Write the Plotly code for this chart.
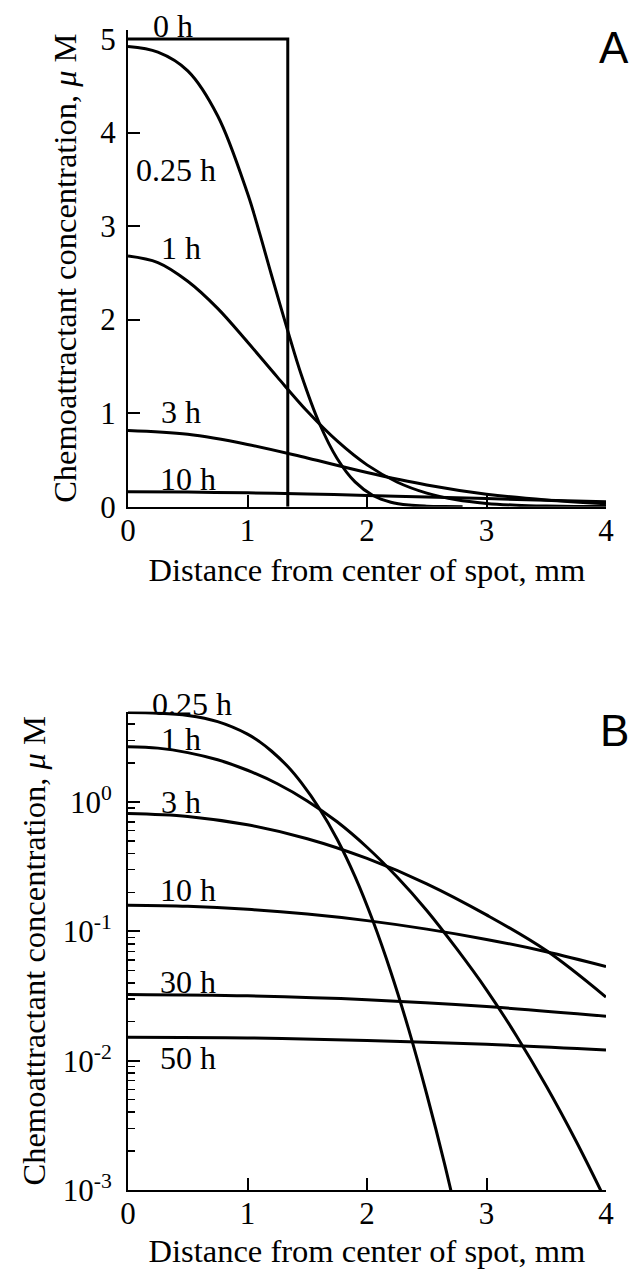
import plotly.graph_objects as go

# ---------------- data ----------------
# 0 h : initial step profile
dist_0h = [0.0, 1.337, 1.337]
conc_0h = [5.0, 5.0, 0.0]

# 0.25 h
dist_025h = [0.0, 0.25, 0.5, 0.75, 1.0, 1.1, 1.2, 1.337, 1.45, 1.6, 1.75, 1.9,
             2.05, 2.2, 2.35, 2.5, 2.65, 2.8]
conc_025h = [4.92, 4.86, 4.66, 4.18, 3.35, 2.93, 2.48, 1.88, 1.41, 0.895, 0.516,
             0.265, 0.120, 0.0483, 0.0173, 0.0055, 0.00158, 0.0004]

# 1 h
dist_1h = [0.0, 0.25, 0.5, 0.75, 1.0, 1.25, 1.5, 1.75, 2.0, 2.25, 2.5, 2.75,
           3.0, 3.25, 3.5, 3.75, 4.0]
conc_1h = [2.68, 2.61, 2.41, 2.12, 1.76, 1.385, 1.02, 0.703, 0.447, 0.264, 0.145,
           0.0734, 0.0353, 0.0156, 0.00636, 0.00238, 0.00082]

# 3 h
dist_3h = [0.0, 0.5, 1.0, 1.5, 2.0, 2.5, 3.0, 3.5, 4.0]
conc_3h = [0.815, 0.774, 0.666, 0.520, 0.366, 0.233, 0.134, 0.071, 0.031]

# 10 h
dist_10h = [0.0, 0.5, 1.0, 1.5, 2.0, 2.5, 3.0, 3.5, 4.0]
conc_10h = [0.159, 0.156, 0.148, 0.136, 0.121, 0.104, 0.0866, 0.0696, 0.0535]

# 30 h
dist_30h = [0.0, 1.0, 2.0, 3.0, 4.0]
conc_30h = [0.0325, 0.0317, 0.0296, 0.0262, 0.0221]

# 50 h
dist_50h = [0.0, 1.0, 2.0, 3.0, 4.0]
conc_50h = [0.0152, 0.0150, 0.0143, 0.0134, 0.0121]

x_ticks = [0, 1, 2, 3, 4]
x_ticklabels = ["0", "1", "2", "3", "4"]
y_lin_ticks = [0, 1, 2, 3, 4, 5]
y_lin_ticklabels = ["0", "1", "2", "3", "4", "5"]
y_log_ticks = [0.001, 0.01, 0.1, 1]
y_log_ticklabels = ["10<sup>-3</sup>", "10<sup>-2</sup>", "10<sup>-1</sup>", "10<sup>0</sup>"]
y_log_minor = [m * 10.0 ** e for e in (-3, -2, -1) for m in range(2, 10)] + [2, 3, 4]

x_title = "Distance from center of spot, mm"
y_title = "Chemoattractant concentration, <i>\u03bc</i> M"

top_series = [("0 h", dist_0h, conc_0h), ("0.25 h", dist_025h, conc_025h),
              ("1 h", dist_1h, conc_1h), ("3 h", dist_3h, conc_3h),
              ("10 h", dist_10h, conc_10h)]
bottom_series = [("0.25 h", dist_025h, conc_025h), ("1 h", dist_1h, conc_1h),
                 ("3 h", dist_3h, conc_3h), ("10 h", dist_10h, conc_10h),
                 ("30 h", dist_30h, conc_30h), ("50 h", dist_50h, conc_50h)]

# ---------------- figure ----------------
SERIF = "Liberation Serif"
LW = 3.0
fig = go.Figure()

for name, xs, ys in top_series:
    fig.add_trace(go.Scatter(
        x=xs, y=ys, mode="lines", name=name, xaxis="x", yaxis="y",
        line=dict(color="black", width=LW,
                  shape="linear" if name == "0 h" else "spline", smoothing=1.0),
        showlegend=False, hoverinfo="skip"))

for name, xs, ys in bottom_series:
    fig.add_trace(go.Scatter(
        x=xs, y=ys, mode="lines", name=name, xaxis="x2", yaxis="y2",
        line=dict(color="black", width=LW, shape="spline", smoothing=1.0),
        showlegend=False, hoverinfo="skip"))

tickfont = dict(family=SERIF, size=31, color="black")
titlefont = dict(family=SERIF, size=32.5, color="black")

common_x = dict(range=[0, 4], tickmode="array", tickvals=x_ticks, ticktext=x_ticklabels,
                ticks="inside", ticklen=12, tickwidth=2, tickcolor="black",
                showline=True, linewidth=2, linecolor="black", mirror=False,
                showgrid=False, zeroline=False, tickfont=tickfont,
                ticklabelstandoff=-5, automargin=False,
                title=dict(text=x_title, font=titlefont, standoff=11))

fig.update_layout(
    width=631, height=1269,
    margin=dict(l=128, r=25, t=0, b=0),
    paper_bgcolor="white", plot_bgcolor="white",
    xaxis=dict(domain=[0, 1], anchor="y", **common_x),
    yaxis=dict(domain=[0.60071, 0.97664], anchor="x", range=[0, 5.1],
               tickmode="array", tickvals=y_lin_ticks, ticktext=y_lin_ticklabels,
               ticks="inside", ticklen=12, tickwidth=2, tickcolor="black",
               showline=True, linewidth=2, linecolor="black",
               showgrid=False, zeroline=False, tickfont=tickfont,
               ticklabelstandoff=4, automargin=False,
               title=dict(text=y_title, font=titlefont, standoff=14)),
    xaxis2=dict(domain=[0, 1], anchor="y2", **common_x),
    yaxis2=dict(domain=[0.06225, 0.43924], anchor="x2", type="log",
                range=[-3, 0.699],
                tickmode="array", tickvals=y_log_ticks, ticktext=y_log_ticklabels,
                ticks="inside", ticklen=12, tickwidth=2, tickcolor="black",
                minor=dict(tickmode="array", tickvals=y_log_minor, ticks="inside",
                           ticklen=7, tickwidth=1.5, tickcolor="black", showgrid=False),
                showline=True, linewidth=2, linecolor="black",
                showgrid=False, zeroline=False, tickfont=tickfont,
                ticklabelstandoff=8, automargin=False,
                title=dict(text=y_title, font=titlefont, standoff=7)),
)

labfont = dict(family=SERIF, size=32, color="black")
# labels inside the axes ranges (data coordinates)
top_labels = [("0.25 h", 0.40, 3.6), ("1 h", 0.44, 2.77),
              ("3 h", 0.44, 1.01), ("10 h", 0.50, 0.30)]
for txt, x, y in top_labels:
    fig.add_annotation(x=x, y=y, xref="x", yref="y", text=txt, showarrow=False,
                       font=labfont, xanchor="center", yanchor="middle")

bottom_labels = [("1 h", 0.44, 0.487), ("3 h", 0.44, 0.0),
                 ("10 h", 0.50, -0.681), ("30 h", 0.50, -1.39), ("50 h", 0.50, -1.976)]
for txt, x, y in bottom_labels:
    fig.add_annotation(x=x, y=y, xref="x2", yref="y2", text=txt, showarrow=False,
                       font=labfont, xanchor="center", yanchor="middle")

# labels sitting just above the top of each axes box
fig.add_annotation(x=0.095, y=0.9794, xref="paper", yref="paper", text="0 h",
                   showarrow=False, font=labfont, xanchor="center", yanchor="middle")
fig.add_annotation(x=0.1339, y=0.4455, xref="paper", yref="paper", text="0.25 h",
                   showarrow=False, font=labfont, xanchor="center", yanchor="middle")

panel_font = dict(family="Liberation Sans", size=44, color="black")
fig.add_annotation(x=1.0167, y=0.9622, xref="paper", yref="paper", text="A",
                   showarrow=False, font=panel_font, xanchor="center", yanchor="middle")
fig.add_annotation(x=1.0188, y=0.4240, xref="paper", yref="paper", text="B",
                   showarrow=False, font=panel_font, xanchor="center", yanchor="middle")

fig.write_html("out.html",
               config={"displayModeBar": False, "staticPlot": True},
               post_script="document.body.style.margin='0px';document.body.style.overflow='hidden';")
